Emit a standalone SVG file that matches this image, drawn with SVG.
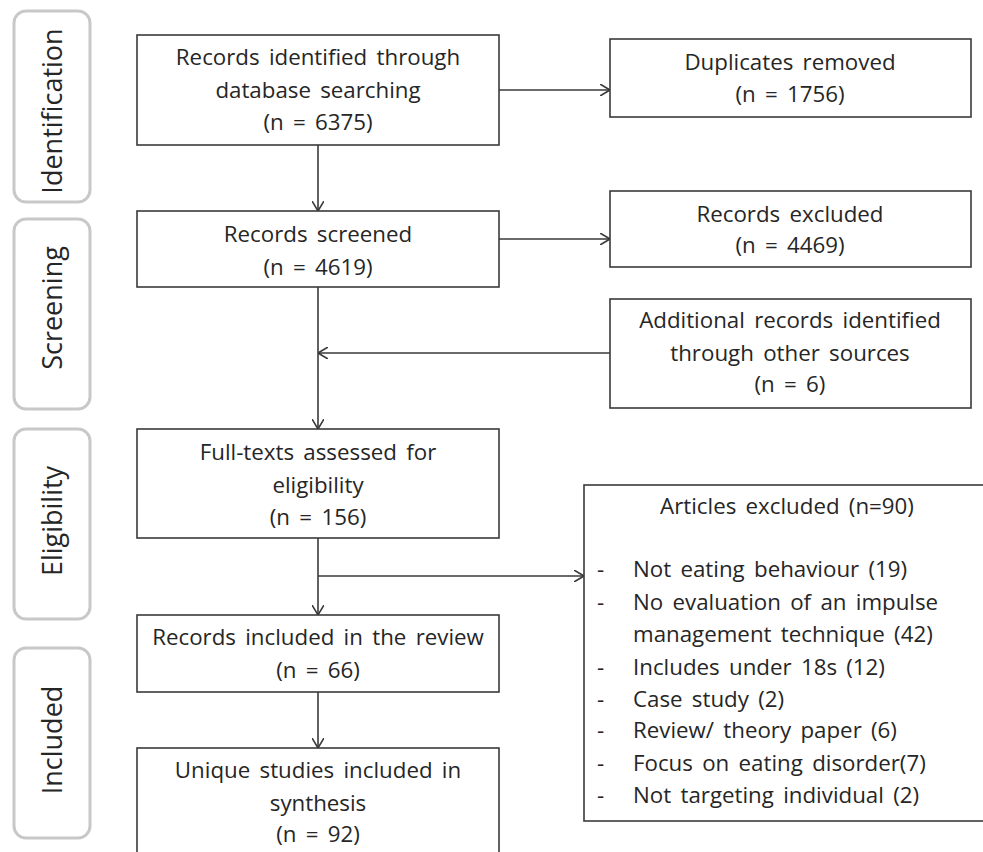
<svg xmlns="http://www.w3.org/2000/svg" width="983" height="852" viewBox="0 0 983 852">
<style>
.box{fill:#fff;stroke:#3a3a3a;stroke-width:1.6}
.side{fill:none;stroke:#c8c8c8;stroke-width:3}
.t{font-family:"Open Sans","Liberation Sans",Arial,sans-serif;font-size:22.3px;word-spacing:3.5px;fill:#262626;text-anchor:middle}
.l{font-family:"Open Sans","Liberation Sans",Arial,sans-serif;font-size:22.3px;word-spacing:3.5px;fill:#262626}
.s{font-family:"Open Sans","Liberation Sans",Arial,sans-serif;font-size:27px;fill:#262626;text-anchor:middle}
.c{fill:none;stroke:#3a3a3a;stroke-width:1.6}
</style>
<defs>
<marker id="ah" viewBox="0 0 10 12" refX="10" refY="6" markerWidth="10" markerHeight="12" markerUnits="userSpaceOnUse" orient="auto">
<path d="M0,0 L10,6 L0,12" fill="none" stroke="#3a3a3a" stroke-width="1.6"/>
</marker>
</defs>
<g id="phase-identification"><rect class="side" x="14" y="11" width="76" height="191" rx="12"/><text class="s" transform="translate(62,111) rotate(-90)">Identification</text></g>
<g id="phase-screening"><rect class="side" x="14" y="219" width="76" height="190" rx="12"/><text class="s" transform="translate(62,308) rotate(-90)">Screening</text></g>
<g id="phase-eligibility"><rect class="side" x="14" y="429" width="76" height="190" rx="12"/><text class="s" transform="translate(62,521) rotate(-90)">Eligibility</text></g>
<g id="phase-included"><rect class="side" x="14" y="648" width="76" height="190" rx="12"/><text class="s" transform="translate(62,740) rotate(-90)">Included</text></g>

<g id="connectors">
<line class="c" x1="318" y1="145" x2="318" y2="211" marker-end="url(#ah)"/>
<line class="c" x1="499" y1="90" x2="610" y2="90" marker-end="url(#ah)"/>
<line class="c" x1="499" y1="239" x2="610" y2="239" marker-end="url(#ah)"/>
<line class="c" x1="318" y1="287" x2="318" y2="429" marker-end="url(#ah)"/>
<line class="c" x1="610" y1="353" x2="318" y2="353" marker-end="url(#ah)"/>
<line class="c" x1="318" y1="538" x2="318" y2="615" marker-end="url(#ah)"/>
<line class="c" x1="318" y1="576" x2="584" y2="576" marker-end="url(#ah)"/>
<line class="c" x1="318" y1="692" x2="318" y2="748" marker-end="url(#ah)"/>
</g>

<g id="records-identified"><rect class="box" x="137" y="35" width="362" height="110"/>
<text class="t" x="318" y="65">Records identified through</text>
<text class="t" x="318" y="98">database searching</text>
<text class="t" x="318" y="130">(n = 6375)</text></g>

<g id="duplicates-removed"><rect class="box" x="610" y="39" width="361" height="78"/>
<text class="t" x="790" y="70">Duplicates removed</text>
<text class="t" x="790" y="102">(n = 1756)</text></g>

<g id="records-screened"><rect class="box" x="137" y="211" width="362" height="76"/>
<text class="t" x="318" y="242">Records screened</text>
<text class="t" x="318" y="275">(n = 4619)</text></g>

<g id="records-excluded"><rect class="box" x="610" y="191" width="361" height="76"/>
<text class="t" x="790" y="222">Records excluded</text>
<text class="t" x="790" y="253">(n = 4469)</text></g>

<g id="additional-records"><rect class="box" x="610" y="299" width="361" height="109"/>
<text class="t" x="790" y="328">Additional records identified</text>
<text class="t" x="790" y="361">through other sources</text>
<text class="t" x="790" y="392">(n = 6)</text></g>

<g id="full-texts"><rect class="box" x="137" y="429" width="362" height="109"/>
<text class="t" x="318" y="460">Full-texts assessed for</text>
<text class="t" x="318" y="493">eligibility</text>
<text class="t" x="318" y="525">(n = 156)</text></g>

<g id="articles-excluded"><rect class="box" x="584" y="485" width="400" height="336"/>
<text class="t" x="787" y="514">Articles excluded (n=90)</text>
<text class="l" x="597" y="577">-</text><text class="l" x="633" y="577">Not eating behaviour (19)</text>
<text class="l" x="597" y="610">-</text><text class="l" x="633" y="610">No evaluation of an impulse</text>
<text class="l" x="633" y="642">management technique (42)</text>
<text class="l" x="597" y="675">-</text><text class="l" x="633" y="675">Includes under 18s (12)</text>
<text class="l" x="597" y="707">-</text><text class="l" x="633" y="707">Case study (2)</text>
<text class="l" x="597" y="738">-</text><text class="l" x="633" y="738">Review/ theory paper (6)</text>
<text class="l" x="597" y="771">-</text><text class="l" x="633" y="771">Focus on eating disorder(7)</text>
<text class="l" x="597" y="803">-</text><text class="l" x="633" y="803">Not targeting individual (2)</text></g>

<g id="records-included"><rect class="box" x="137" y="615" width="362" height="77"/>
<text class="t" x="318" y="645">Records included in the review</text>
<text class="t" x="318" y="678">(n = 66)</text></g>

<g id="unique-studies"><rect class="box" x="137" y="748" width="362" height="110"/>
<text class="t" x="318" y="778">Unique studies included in</text>
<text class="t" x="318" y="811">synthesis</text>
<text class="t" x="318" y="842">(n = 92)</text></g>
</svg>
